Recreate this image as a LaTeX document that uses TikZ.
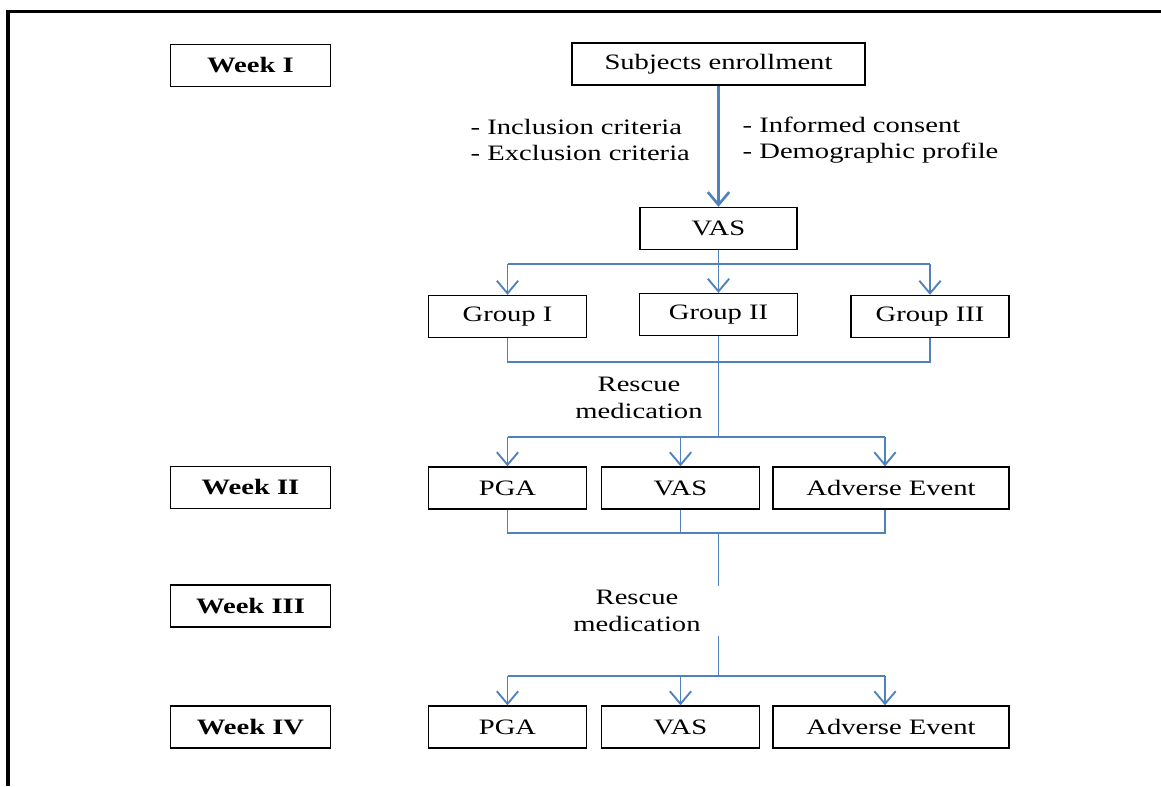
\documentclass[tikz,border=0pt]{standalone}
\usepackage{fontspec}
\setmainfont{Liberation Serif}[FakeStretch=1.3]
\usetikzlibrary{arrows.meta}
\definecolor{flowblue}{RGB}{79,129,189}

\begin{document}
\begin{tikzpicture}[x=0.75pt,y=-0.75pt,
  font=\fontsize{16.5}{19.8}\selectfont,
  box/.style={draw, line width=1pt, minimum width=118.5pt, minimum height=31.5pt, inner sep=0pt},
  week/.style={box, minimum width=120pt, font=\fontsize{16.5}{19.8}\selectfont\bfseries},
  flow/.style={draw=flowblue, line width=1.4pt},
  arr/.style={flow, -{Straight Barb[length=9.5pt,width=16pt]}}]
\useasboundingbox (0,0) rectangle (1161,786);
% frame
\draw[line width=2.25pt] (6,11.3) -- (1161,11.3);
\draw[line width=3pt] (8,10) -- (8,786);
% weeks
\node[week] (w1) at (250.5,65.5) {Week I};
\node[week] (w2) at (250.5,487.5) {Week II};
\node[week] (w3) at (250.5,606) {Week III};
\node[week] (w4) at (250.5,727) {Week IV};
% flow boxes
\node[box, minimum width=219.75pt] (enroll) at (718.5,64) {Subjects enrollment};
\node[box, minimum width=117.75pt] (vas1) at (718.5,228.5) {VAS};
\node[box] (g1) at (507.5,316.5) {Group I};
\node[box] (g2) at (718.5,314.5) {Group II};
\node[box] (g3) at (930,316.5) {Group III};
\node[box] (pga2) at (507.5,488) {PGA};
\node[box] (vas2) at (680.5,488) {VAS};
\node[box, minimum width=177pt] (ae2) at (891,488) {Adverse Event};
\node[box] (pga3) at (507.5,727) {PGA};
\node[box] (vas3) at (680.5,727) {VAS};
\node[box, minimum width=177pt] (ae3) at (891,727) {Adverse Event};
% labels
\node[anchor=west, align=left] (incl) at (466,140) {- Inclusion criteria\\- Exclusion criteria};
\node[anchor=west, align=left] (cons) at (738,140) {- Informed consent\\- Demographic profile};
\node[align=center] (resc1) at (639,398) {Rescue\\medication};
\node[align=center] (resc2) at (637,611) {Rescue\\medication};
% connectors
\coordinate (c3) at (885,0);
\coordinate (s1) at (718.5,264);
\coordinate (j1) at (718.5,362);
\coordinate (s2) at (718.5,437);
\coordinate (j2) at (718.5,533);
\coordinate (s3) at (718.5,676);
\draw[arr, line width=2pt] (enroll) -- (vas1);
\draw[flow] (vas1) -- (s1);
\draw[flow] (s1 -| g1) -- (s1 -| g3);
\draw[arr] (s1 -| g1) -- (g1);
\draw[arr] (s1) -- (g2);
\draw[arr] (s1 -| g3) -- (g3);
\draw[flow] (g1) -- (j1 -| g1) -- (j1 -| g3) -- (g3);
\draw[flow] (g2) -- (s2);
\draw[flow] (s2 -| pga2) -- (s2 -| c3);
\draw[arr] (s2 -| pga2) -- (pga2);
\draw[arr] (s2 -| vas2) -- (vas2);
\draw[arr] (s2 -| c3) -- (c3 |- ae2.north);
\draw[flow] (pga2) -- (j2 -| pga2) -- (j2 -| c3) -- (c3 |- ae2.south);
\draw[flow] (vas2) -- (j2 -| vas2);
\draw[flow] (j2) -- (resc2.north -| j2);
\draw[flow] (resc2.south -| s3) -- (s3);
\draw[flow] (s3 -| pga3) -- (s3 -| c3);
\draw[arr] (s3 -| pga3) -- (pga3);
\draw[arr] (s3 -| vas3) -- (vas3);
\draw[arr] (s3 -| c3) -- (c3 |- ae3.north);
\end{tikzpicture}
\end{document}
